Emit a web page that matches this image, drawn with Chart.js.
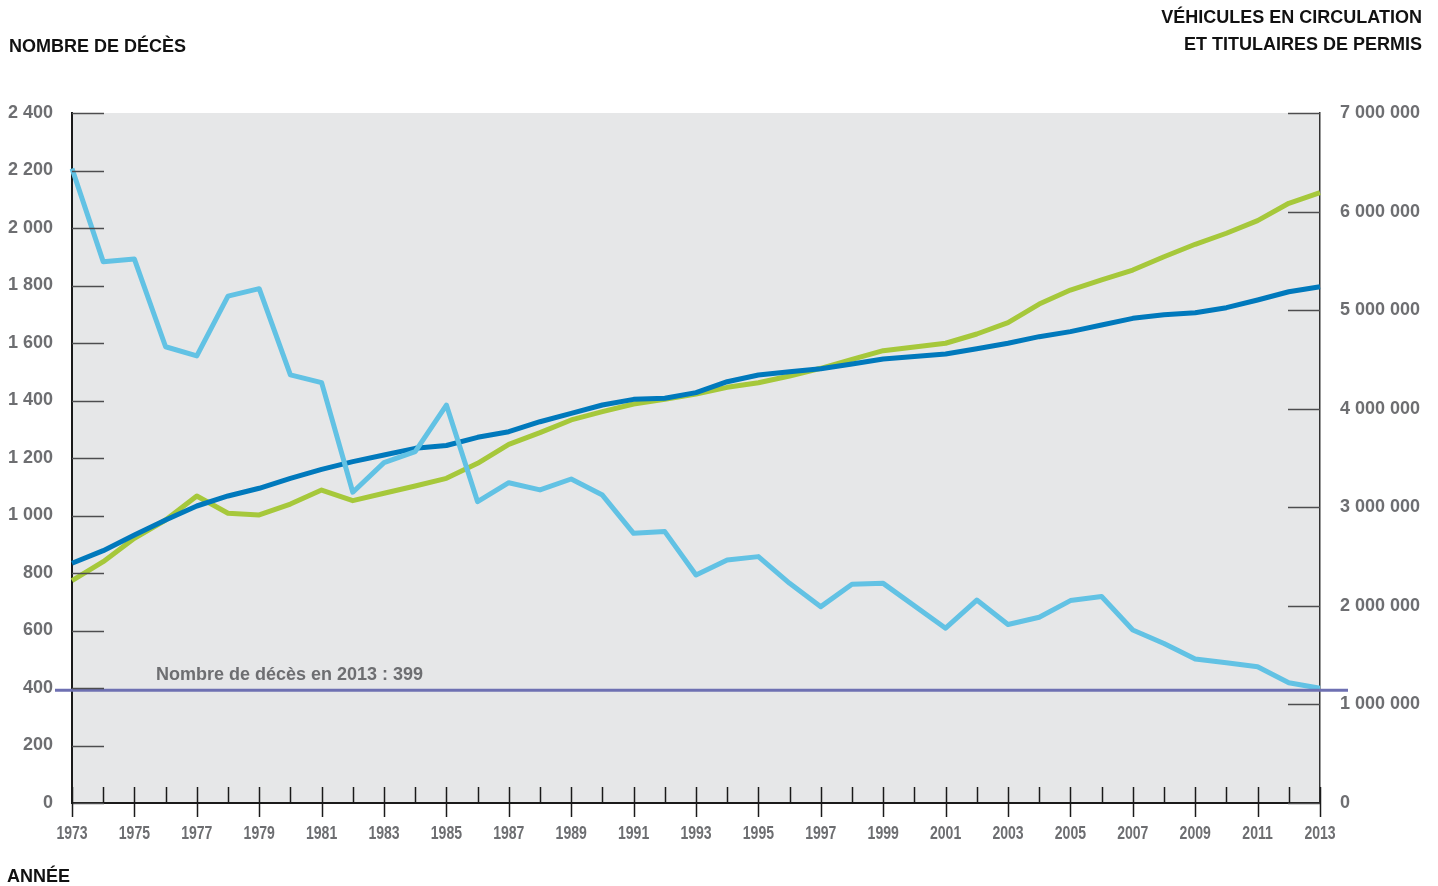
<!DOCTYPE html>
<html lang="fr">
<head>
<meta charset="utf-8">
<title>Bilan routier 1973-2013</title>
<script src="https://cdn.jsdelivr.net/npm/chart.js@4.4.1/dist/chart.umd.min.js"></script>
<style>
    html, body { margin: 0; padding: 0; background: #ffffff; }
    #wrap { width: 1438px; height: 886px; }
</style>
</head>
<body>
<div id="wrap"><canvas id="bilan" width="1438" height="886"></canvas></div>
<script>
// années 1973 à 2013 (2000 absent du tracé d'origine)
const annees = [];
for (let a = 1973; a <= 2013; a++) annees.push(a);

const deces = [2207, 1883, 1892, 1587, 1555, 1763, 1789, 1489, 1462, 1081, 1184, 1222, 1384, 1048, 1114, 1089, 1127, 1071, 938, 944, 793, 845, 857, 764, 683, 761, 764,
    null,
    608, 706, 621, 646, 704, 718, 602, 555, 501, 488, 474, 418, 399];

// en milliers
const titulairesPermis = [2432, 2560, 2719, 2871, 3013, 3115, 3193, 3294, 3385, 3463, 3530, 3598, 3627, 3710, 3767, 3868, 3953, 4038, 4095, 4106, 4163, 4274, 4342, 4376, 4405, 4454, 4504,
    null,
    4555, 4609, 4664, 4731, 4782, 4849, 4917, 4954, 4974, 5025, 5103, 5187, 5238];

const vehicules = [2255, 2448, 2685, 2871, 3115, 2939, 2922, 3033, 3175, 3067, 3142, 3216, 3294, 3446, 3639, 3757, 3886, 3970, 4048, 4095, 4149, 4217, 4264, 4332, 4410, 4501, 4589,
    null,
    4664, 4758, 4873, 5062, 5204, 5306, 5407, 5542, 5668, 5780, 5908, 6084, 6192];

const deces2013 = 399;

const gris = "#6D6E71";
const fontBold = "'Liberation Sans', Arial, sans-serif";

function espaces(n) {
    return String(Math.round(n)).replace(/\B(?=(\d{3})+(?!\d))/g, " ");
}

const fondGris = {
    id: "fondGris",
    beforeDraw(chart) {
        const { ctx, chartArea: a } = chart;
        ctx.save();
        ctx.fillStyle = "#E6E7E8";
        ctx.fillRect(a.left, a.top, a.right - a.left, a.bottom - a.top);
        ctx.restore();
    }
};

const repere2013 = {
    id: "repere2013",
    afterDatasetsDraw(chart) {
        const { ctx, chartArea: a, scales: { y } } = chart;
        const py = y.getPixelForValue(deces2013);
        ctx.save();
        ctx.strokeStyle = "#6E70B2";
        ctx.lineWidth = 3;
        ctx.beginPath();
        ctx.moveTo(a.left - 17, py + 2);
        ctx.lineTo(a.right + 28, py + 2);
        ctx.stroke();
        ctx.fillStyle = gris;
        ctx.font = "bold 18px " + fontBold;
        ctx.textBaseline = "middle";
        ctx.fillText("Nombre de décès en 2013 : " + deces2013, a.left + 84, py - 13);
        ctx.restore();
    }
};

const traits = {
    id: "traits",
    afterDraw(chart) {
        const { ctx, chartArea: a, scales: { x, y, y1 } } = chart;
        ctx.save();
        ctx.lineWidth = 1.5;
        ctx.strokeStyle = "#4D4D4F";
        y.ticks.forEach((t) => {
            const py = Math.round(y.getPixelForValue(t.value)) + 0.5;
            ctx.beginPath(); ctx.moveTo(a.left, py); ctx.lineTo(a.left + 32, py); ctx.stroke();
        });
        y1.ticks.forEach((t) => {
            const py = Math.round(y1.getPixelForValue(t.value)) + 0.5;
            ctx.beginPath(); ctx.moveTo(a.right - 32, py); ctx.lineTo(a.right, py); ctx.stroke();
        });
        ctx.strokeStyle = "#1A1A1A";
        annees.forEach((an, i) => {
            const px = Math.round(x.getPixelForValue(i)) + 0.5;
            ctx.beginPath();
            ctx.moveTo(px, a.bottom - 16);
            ctx.lineTo(px, an % 2 ? a.bottom + 14 : a.bottom);
            ctx.stroke();
        });

        // étiquettes des années, police étroite
        ctx.fillStyle = gris;
        ctx.font = "bold 18px " + fontBold;
        ctx.textAlign = "center";
        ctx.textBaseline = "middle";
        annees.forEach((an, i) => {
            if (an % 2 === 0) return;
            const px = x.getPixelForValue(i);
            ctx.save();
            ctx.translate(px, a.bottom + 31);
            ctx.scale(0.78, 1);
            ctx.fillText(String(an), 0, 0);
            ctx.restore();
        });

        // titres
        ctx.fillStyle = "#111111";
        ctx.font = "bold 18px " + fontBold;
        ctx.textBaseline = "middle";
        ctx.textAlign = "left";
        ctx.fillText("NOMBRE DE DÉCÈS", 9, 47);
        ctx.fillText("ANNÉE", 7, 877);
        ctx.textAlign = "right";
        ctx.fillText("VÉHICULES EN CIRCULATION", 1422, 18);
        ctx.fillText("ET TITULAIRES DE PERMIS", 1422, 45);
        ctx.restore();
    }
};

const ctx = document.getElementById("bilan");

new Chart(ctx, {
    type: "line",
    data: {
        labels: annees,
        datasets: [{
            label: "Nombre de décès",
            data: deces,
            yAxisID: "y",
            borderColor: "#62C2E4",
            borderWidth: 5
        }, {
            label: "Titulaires de permis",
            data: titulairesPermis,
            yAxisID: "y1",
            borderColor: "#0079BC",
            borderWidth: 5
        }, {
            label: "Véhicules en circulation",
            data: vehicules,
            yAxisID: "y1",
            borderColor: "#A6C83B",
            borderWidth: 5
        }]
    },
    options: {
        responsive: false,
        animation: false,
        devicePixelRatio: 1,
        spanGaps: true,
        elements: {
            point: { radius: 0, hoverRadius: 0 },
            line: { tension: 0, borderJoinStyle: "round" }
        },
        layout: {
            padding: { top: 113, left: 0, right: 0, bottom: 0 }
        },
        scales: {
            x: {
                type: "category",
                offset: false,
                grid: { display: false, drawTicks: false },
                border: { display: true, color: "#1A1A1A", width: 2 },
                ticks: { display: false, autoSkip: false },
                afterFit(scale) { scale.height = 83; }
            },
            y: {
                position: "left",
                min: 0,
                max: 2400,
                grid: { display: false, drawTicks: false },
                border: { display: true, color: "#1A1A1A", width: 2 },
                ticks: {
                    stepSize: 200,
                    padding: 19,
                    color: gris,
                    font: { family: fontBold, size: 18, weight: "bold" },
                    callback: (v) => espaces(v)
                },
                afterFit(scale) { scale.width = 72; }
            },
            y1: {
                position: "right",
                min: 0,
                max: 7000,
                grid: { display: false, drawTicks: false },
                border: { display: true, color: "#333333", width: 1.5 },
                ticks: {
                    stepSize: 1000,
                    padding: 20,
                    color: gris,
                    font: { family: fontBold, size: 18, weight: "bold" },
                    callback: (v) => espaces(v * 1000)
                },
                afterFit(scale) { scale.width = 118; }
            }
        },
        plugins: {
            legend: { display: false },
            tooltip: { enabled: false }
        }
    },
    plugins: [fondGris, repere2013, traits]
});
</script>
</body>
</html>
